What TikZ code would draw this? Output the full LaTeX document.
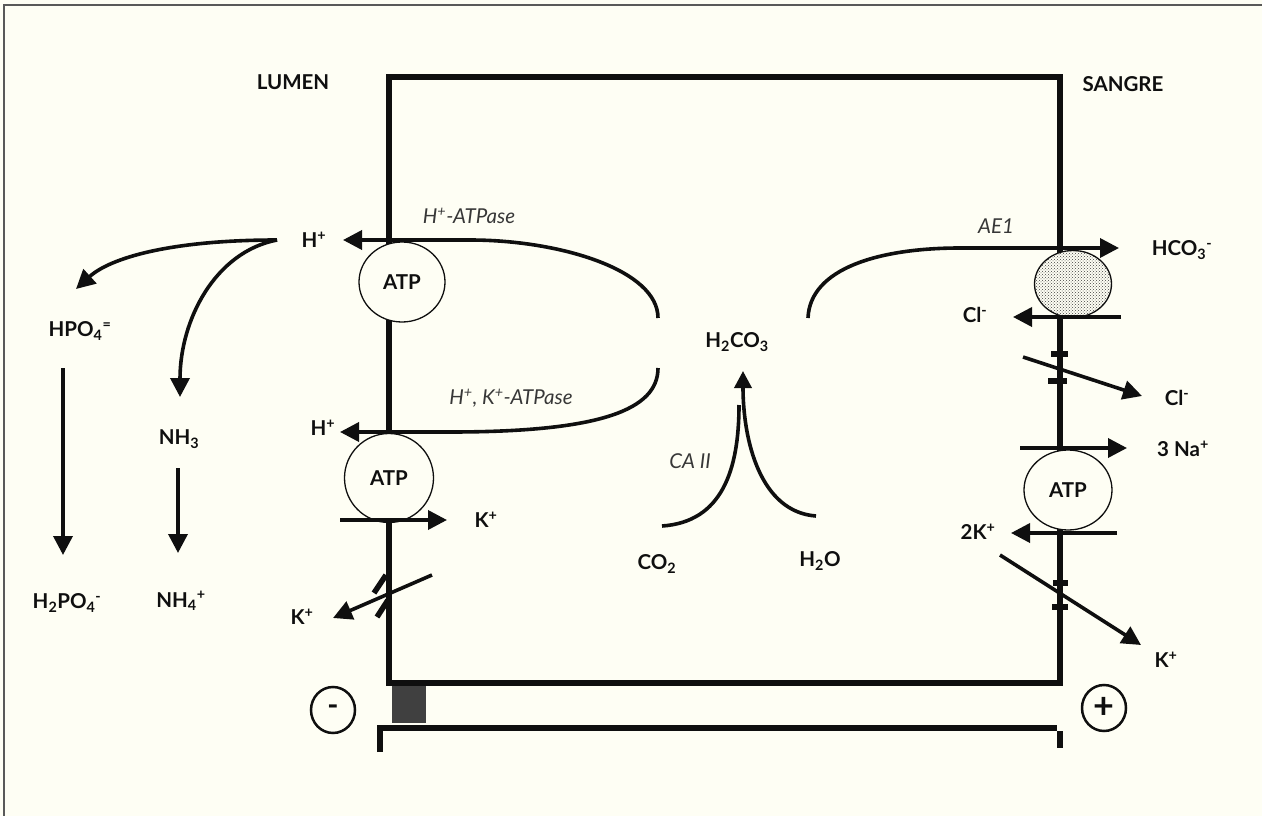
\documentclass[tikz,border=0pt]{standalone}
\usepackage{fontspec}
\setmainfont{Lato}
\usepackage{tikz}
\usetikzlibrary{arrows.meta,shapes.geometric,patterns}
\definecolor{paper}{RGB}{254,254,244}
\definecolor{ink}{RGB}{15,15,15}
\definecolor{enzgray}{RGB}{55,55,55}
\newcommand{\ionsub}[1]{\textsubscript{#1}}
\newcommand{\ionsup}[1]{\textsuperscript{#1}}

\begin{document}
\begin{tikzpicture}[x=1pt,y=-1pt,font=\bfseries\fontsize{20.5}{22}\selectfont,text=ink]
\tikzset{lbl/.style={inner sep=1pt},
  enz/.style={font=\itshape\fontsize{20.5}{22}\selectfont,text=enzgray,inner sep=1pt},
  mem/.style={draw=ink,line width=6pt,line join=miter},
  wire/.style={draw=ink,line width=3.6pt},
  flux/.style={wire,-{Triangle[length=19pt,width=19pt]}},
  gate/.style={draw=ink,line width=5.5pt},
  pump/.style={ellipse,draw=ink,line width=1.3pt,fill=paper,inner sep=0pt},
  pole/.style={ellipse,draw=ink,line width=2.5pt,inner sep=0pt,minimum width=44pt,minimum height=46pt}}
\fill[paper] (0,0) rectangle (1262,816);
\useasboundingbox (0,0) rectangle (1262,816);
\draw[line width=2pt,black!65] (4,816) -- (4,5) -- (1262,5);
% cell and tight junction
\draw[mem] (389,77) rectangle (1060,683);
\fill[black!75] (392,686) rectangle (426,723);
\draw[gate,line cap=butt] (380,752) |- (1057,728);
\draw[gate] (1060,731) -- (1060,748);
% channels in the membranes
\draw[gate] (374,593) -- (386,575);
\draw[gate] (377,617) -- (388,600);
\draw[gate,line width=6pt] (1051,354) -- (1068,354);
\draw[gate,line width=6pt] (1048,381) -- (1067,381);
\draw[gate,line width=6pt] (1053,583) -- (1068,583);
\draw[gate,line width=6pt] (1052,607) -- (1068,607);
% pumps
\node[pump,minimum width=86pt,minimum height=80pt] (atpA) at (402,282) {ATP};
\node[pump,minimum width=89pt,minimum height=89pt] (atpB) at (389,478) {ATP};
\node[pump,minimum width=88pt,minimum height=80pt] (atpC) at (1068,490) {ATP};
\node[pump,minimum width=77pt,minimum height=67pt,preaction={fill=paper},
  pattern=crosshatch dots,pattern color=black!75] (ae) at (1073,284) {};
% labels
\node[lbl] (lumen) at (293,82) {LUMEN};
\node[lbl] (sangre) at (1123,84) {SANGRE};
\node[lbl] (hpTop) at (314,240) {H\ionsup{+}};
\node[lbl] (hpLow) at (323,428) {H\ionsup{+}};
\node[lbl] (kOut) at (486,520) {K\ionsup{+}};
\node[lbl] (kLeak) at (302,617) {K\ionsup{+}};
\node[lbl] (hpo) at (80,331) {HPO\ionsub{4}\ionsup{=}};
\node[lbl] (nhThree) at (179,439) {NH\ionsub{3}};
\node[lbl] (hpoTwo) at (67,603) {H\ionsub{2}PO\ionsub{4}\ionsup{-}};
\node[lbl] (nhFour) at (181,601) {NH\ionsub{4}\ionsup{+}};
\node[lbl] (hco) at (737,342) {H\ionsub{2}CO\ionsub{3}};
\node[lbl] (co) at (657,564) {CO\ionsub{2}};
\node[lbl] (water) at (820,561) {H\ionsub{2}O};
\node[lbl] (hcoThree) at (1182,250) {HCO\ionsub{3}\ionsup{-}};
\node[lbl] (clIn) at (975,315) {Cl\ionsup{-}};
\node[lbl] (clOut) at (1177,398) {Cl\ionsup{-}};
\node[lbl] (naThree) at (1183,449) {3 Na\ionsup{+}};
\node[lbl] (twoK) at (978,532) {2K\ionsup{+}};
\node[lbl] (kBlood) at (1166,660) {K\ionsup{+}};
\node[enz] (hATP) at (469,216) {H\ionsup{+}-ATPase};
\node[enz] (hkATP) at (511,398) {H\ionsup{+}, K\ionsup{+}-ATPase};
\node[enz] (caII) at (690,461) {CA II};
\node[enz] (aeOne) at (996,226) {AE1};
\node[pole] (minus) at (333,710) {\fontsize{30}{30}\selectfont -};
\node[pole] (plus) at (1104,708) {\fontsize{36}{36}\selectfont +};
% end points of the fluxes
\coordinate (hpTopTip) at (343,240);
\coordinate (hpLowTip) at (340,432);
\coordinate (bendA) at (658,318);
\coordinate (bendB) at (658,368);
\coordinate (bendC) at (808,318);
\coordinate (hcoTip) at (1119,248);
\coordinate (hsrc) at (277,240);
% lumen side
\draw[flux] (bendA) .. controls (658,270) and (560,240) .. (470,240) -- (hpTopTip);
\draw[flux] (bendB) .. controls (658,410) and (600,432) .. (450,432) -- (hpLowTip);
\draw[flux] (340,520) -- (447,520);
\draw[flux] (432,575) -- (333,618);
\draw[flux] (hsrc) .. controls (170,240) and (110,258) .. (76,289);
\draw[flux] (hsrc) .. controls (215,252) and (180,320) .. (180,397);
\draw[flux] (63,368) -- (63,555);
\draw[flux] (178,468) -- (178,553);
% carbonic anhydrase
\draw[wire] (662,526) .. controls (722,522) and (739,470) .. (739,405);
\draw[wire,-{Triangle[length=17pt,width=17pt]}] (816,516) .. controls (760,512) and (743,440) .. (743,371);
% blood side
\draw[flux] (bendC) .. controls (810,268) and (880,248) .. (960,248) -- (hcoTip);
\draw[flux] (1121,317) -- (1013,317);
\draw[flux] (1023,357) -- (1142,396);
\draw[flux] (1020,448) -- (1127,448);
\draw[flux] (1117,533) -- (1011,533);
\draw[flux] (1000,555) -- (1141,645);
\end{tikzpicture}
\end{document}
